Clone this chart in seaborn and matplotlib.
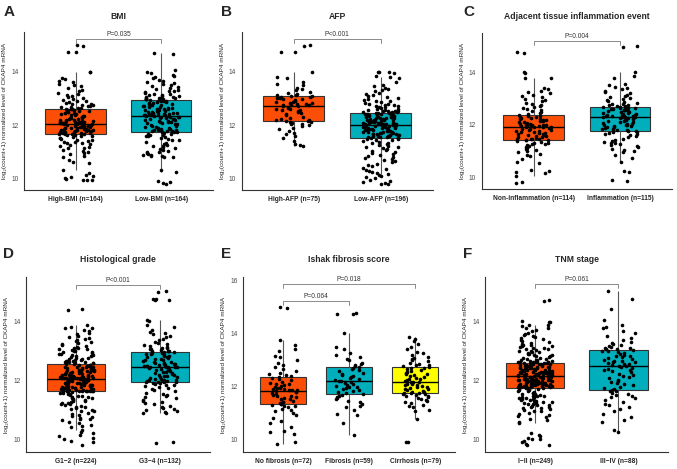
import numpy as np
import pandas as pd
import matplotlib
matplotlib.use("Agg")
import matplotlib.pyplot as plt
import seaborn as sns

sns.set_style("white")
plt.rcParams["font.family"] = ["Liberation Sans", "DejaVu Sans"]

ORANGE = "#FC4E07"
TEAL = "#00AFBB"
YELLOW = "#FFFF00"
YLABEL = "log\u2082(count+1) normalized level of CKAP4 mRNA"

# ---- A: BMI ----
bmi_labels = ["High-BMI (n=164)", "Low-BMI (n=164)"]
bmi_high = [15.0, 14.98, 14.76, 14.74, 14.01, 13.99, 13.78, 13.72, 13.65, 13.6,
            13.55, 13.5, 13.45, 13.38, 13.32, 13.27, 13.22, 13.18, 13.14, 13.1,
            13.06, 13.02, 12.98, 12.95, 12.92, 12.89, 12.86, 12.83, 12.8, 12.78,
            12.76, 12.74, 12.72, 12.7, 12.68, 12.66, 12.64, 12.63, 12.62, 12.61, 12.6,
            12.58, 12.57, 12.56, 12.55, 12.53, 12.52, 12.5, 12.49, 12.47, 12.46,
            12.44, 12.42, 12.41, 12.39, 12.37, 12.35, 12.34, 12.32, 12.3, 12.28,
            12.27, 12.25, 12.23, 12.22, 12.2, 12.19, 12.17, 12.16, 12.15, 12.14,
            12.13, 12.12, 12.11, 12.1, 12.1, 12.09, 12.08, 12.08, 12.07, 12.07, 12.06,
            12.05, 12.04, 12.03, 12.02, 12.01, 12.0, 11.99, 11.98, 11.97, 11.96,
            11.95, 11.94, 11.93, 11.92, 11.91, 11.9, 11.89, 11.88, 11.86, 11.85,
            11.84, 11.83, 11.82, 11.81, 11.8, 11.79, 11.78, 11.77, 11.76, 11.75,
            11.74, 11.73, 11.72, 11.71, 11.7, 11.69, 11.68, 11.67, 11.66, 11.66, 11.65,
            11.64, 11.62, 11.6, 11.58, 11.56, 11.53, 11.5, 11.48, 11.45, 11.42,
            11.4, 11.37, 11.34, 11.31, 11.28, 11.25, 11.22, 11.19, 11.15, 11.12,
            11.08, 11.04, 11.0, 10.95, 10.9, 10.85, 10.78, 10.7, 10.62, 10.58,
            10.3, 10.2, 10.12, 10.08, 10.05, 10.02, 9.98, 9.95, 9.93, 9.93, 11.35]
bmi_low = [14.7, 14.68, 14.05, 14.0, 13.95, 13.88, 13.85, 13.8, 13.75, 13.7,
           13.66, 13.62, 13.58, 13.54, 13.5, 13.46, 13.42, 13.38, 13.35, 13.32,
           13.29, 13.26, 13.23, 13.2, 13.18, 13.16, 13.14, 13.12, 13.1, 13.08,
           13.06, 13.04, 13.03, 13.02, 13.01, 13.0, 12.99, 12.98, 12.97, 12.96, 12.95,
           12.93, 12.92, 12.9, 12.89, 12.87, 12.86, 12.84, 12.82, 12.8, 12.79,
           12.77, 12.75, 12.74, 12.72, 12.7, 12.69, 12.67, 12.65, 12.64, 12.62,
           12.6, 12.59, 12.57, 12.55, 12.54, 12.52, 12.5, 12.49, 12.47, 12.46,
           12.45, 12.44, 12.43, 12.42, 12.41, 12.4, 12.39, 12.38, 12.37, 12.37, 12.36,
           12.35, 12.34, 12.33, 12.32, 12.31, 12.3, 12.29, 12.27, 12.26, 12.24,
           12.23, 12.21, 12.2, 12.18, 12.16, 12.15, 12.13, 12.11, 12.1, 12.08,
           12.06, 12.04, 12.02, 12.0, 11.98, 11.96, 11.94, 11.92, 11.9, 11.88,
           11.86, 11.84, 11.83, 11.82, 11.81, 11.8, 11.79, 11.78, 11.77, 11.76, 11.75,
           11.74, 11.72, 11.7, 11.68, 11.66, 11.64, 11.62, 11.6, 11.57, 11.54,
           11.51, 11.48, 11.45, 11.42, 11.38, 11.34, 11.3, 11.26, 11.22, 11.18,
           11.14, 11.1, 11.06, 11.03, 11.0, 10.97, 10.94, 10.91, 10.88, 10.86,
           10.84, 10.82, 10.8, 10.78, 10.3, 10.25, 9.9, 9.85, 9.82, 9.8, 11.2]

# ---- B: AFP ----
afp_labels = ["High-AFP (n=75)", "Low-AFP (n=196)"]
afp_high = [15.0, 14.98, 14.76, 14.74, 14.0, 13.8, 13.75, 13.6, 13.55, 13.5,
            13.4, 13.35, 13.3, 13.25, 13.2, 13.17, 13.14, 13.12, 13.1,
            13.08, 13.07, 13.05, 13.03, 13.0, 12.98, 12.96, 12.93, 12.9, 12.88,
            12.86, 12.84, 12.82, 12.8, 12.78, 12.77, 12.76, 12.75,
            12.73, 12.7, 12.68, 12.65, 12.62, 12.6, 12.57, 12.55, 12.52, 12.48,
            12.45, 12.4, 12.36, 12.32, 12.28, 12.24, 12.2, 12.18, 12.16,
            12.14, 12.12, 12.1, 12.08, 12.05, 12.02, 12.0, 11.95, 11.9, 11.85,
            11.78, 11.7, 11.65, 11.58, 11.5, 11.4, 11.3, 11.25, 11.22]
afp_low = [14.0, 14.0, 13.98, 13.96, 13.85, 13.8, 13.75, 13.6, 13.5, 13.45,
           13.4, 13.35, 13.3, 13.26, 13.22, 13.18, 13.14, 13.1, 13.06, 13.02,
           12.98, 12.95, 12.92, 12.89, 12.86, 12.83, 12.8, 12.78, 12.76, 12.74,
           12.72, 12.7, 12.68, 12.66, 12.64, 12.62, 12.6, 12.58, 12.56, 12.54,
           12.53, 12.52, 12.51, 12.5, 12.49, 12.48, 12.47, 12.46, 12.45,
           12.44, 12.43, 12.42, 12.41, 12.4, 12.39, 12.38, 12.37, 12.36, 12.35,
           12.34, 12.33, 12.32, 12.31, 12.3, 12.29, 12.28, 12.27, 12.26, 12.25,
           12.24, 12.23, 12.22, 12.21, 12.2, 12.19, 12.18, 12.17, 12.16, 12.15,
           12.14, 12.13, 12.12, 12.11, 12.1, 12.09, 12.08, 12.07, 12.06, 12.05,
           12.05, 12.04, 12.04, 12.03, 12.03, 12.02, 12.02, 12.01, 12.01,
           12.0, 11.99, 11.98, 11.97, 11.96, 11.95, 11.94, 11.93, 11.92, 11.91,
           11.9, 11.89, 11.88, 11.87, 11.86, 11.85, 11.84, 11.83, 11.82, 11.81,
           11.8, 11.79, 11.78, 11.77, 11.76, 11.75, 11.74, 11.73, 11.72, 11.71,
           11.7, 11.69, 11.68, 11.67, 11.66, 11.65, 11.64, 11.63, 11.62, 11.61,
           11.6, 11.59, 11.58, 11.57, 11.56, 11.55, 11.54, 11.53, 11.52,
           11.5, 11.48, 11.46, 11.44, 11.42, 11.4, 11.37, 11.34, 11.31, 11.28,
           11.25, 11.22, 11.19, 11.16, 11.13, 11.1, 11.07, 11.04, 11.0, 10.96,
           10.92, 10.88, 10.84, 10.8, 10.76, 10.72, 10.68, 10.64, 10.6, 10.55,
           10.5, 10.45, 10.4, 10.35, 10.3, 10.26, 10.22, 10.18, 10.15, 10.12,
           10.1, 10.05, 10.0, 9.95, 9.9, 9.85, 9.82, 9.8, 9.8]

# ---- C: Adjacent tissue inflammation event ----
infl_labels = ["Non-inflammation (n=114)", "Inflammation (n=115)"]
infl_non = [14.76, 14.74, 14.0, 13.98, 13.8, 13.78, 13.4, 13.35, 13.3, 13.25,
            13.2, 13.15, 13.1, 13.05, 13.0, 12.95, 12.9, 12.85, 12.8, 12.76,
            12.72, 12.68, 12.64, 12.6, 12.56, 12.52, 12.48, 12.44, 12.4,
            12.37, 12.35, 12.33, 12.31, 12.29, 12.27, 12.25, 12.23, 12.21, 12.19,
            12.17, 12.15, 12.13, 12.11, 12.09, 12.07, 12.05, 12.03, 12.01, 12.0,
            11.99, 11.98, 11.97, 11.96, 11.95, 11.94, 11.93, 11.93,
            11.91, 11.9, 11.88, 11.86, 11.84, 11.82, 11.8, 11.78, 11.76, 11.74,
            11.72, 11.7, 11.68, 11.66, 11.64, 11.62, 11.6, 11.58, 11.56, 11.54,
            11.52, 11.5, 11.48, 11.47, 11.46, 11.45, 11.44, 11.43,
            11.41, 11.38, 11.35, 11.32, 11.29, 11.26, 11.22, 11.18, 11.14, 11.1,
            11.05, 11.0, 10.95, 10.9, 10.85, 10.8, 10.7, 10.6, 10.55, 10.3,
            10.25, 10.2, 10.15, 10.05, 9.82, 9.8, 11.3, 11.2, 11.12]
infl_yes = [15.0, 14.98, 14.0, 13.85, 13.8, 13.55, 13.5, 13.45, 13.4, 13.35,
            13.3, 13.25, 13.2, 13.15, 13.1, 13.06, 13.02, 12.98, 12.94, 12.9,
            12.87, 12.84, 12.81, 12.78, 12.76, 12.74, 12.72, 12.7, 12.69,
            12.67, 12.66, 12.65, 12.64, 12.62, 12.61, 12.6, 12.58, 12.56, 12.55,
            12.53, 12.51, 12.5, 12.48, 12.46, 12.44, 12.42, 12.4, 12.38, 12.37,
            12.36, 12.35, 12.34, 12.33, 12.32, 12.31, 12.3, 12.29,
            12.28, 12.27, 12.25, 12.23, 12.21, 12.19, 12.17, 12.15, 12.13, 12.11,
            12.09, 12.07, 12.05, 12.03, 12.01, 12.0, 11.98, 11.96, 11.94, 11.92,
            11.9, 11.88, 11.86, 11.84, 11.82, 11.8, 11.78, 11.77, 11.76,
            11.74, 11.72, 11.7, 11.67, 11.64, 11.6, 11.56, 11.52, 11.48, 11.44,
            11.4, 11.36, 11.32, 11.28, 11.24, 11.2, 11.15, 11.1, 11.05, 11.0,
            10.95, 10.85, 10.75, 10.6, 10.25, 10.22, 9.9, 9.88, 11.3]

# ---- D: Histological grade ----
grade_labels = ["G1\u22122 (n=224)", "G3\u22124 (n=132)"]
grade_low = [14.4, 14.38, 13.85, 13.8, 13.78, 13.75, 13.7, 13.65, 13.6, 13.55,
             13.5, 13.45, 13.42, 13.38, 13.35, 13.32, 13.28, 13.25, 13.22, 13.19,
             13.16, 13.13, 13.1, 13.08, 13.06, 13.04, 13.02, 13.0, 12.98, 12.96,
             12.94, 12.92, 12.9, 12.88, 12.86, 12.84, 12.82, 12.8, 12.78, 12.76,
             12.74, 12.72, 12.7, 12.68, 12.67, 12.66, 12.65, 12.64, 12.63, 12.62,
             12.61, 12.6, 12.59, 12.58, 12.57, 12.56,
             12.53, 12.52, 12.51, 12.5, 12.49, 12.48, 12.47, 12.46, 12.45, 12.44,
             12.43, 12.42, 12.41, 12.4, 12.39, 12.38, 12.37, 12.36, 12.35, 12.34,
             12.33, 12.32, 12.31, 12.3, 12.29, 12.28, 12.27, 12.26, 12.25, 12.24,
             12.23, 12.22, 12.21, 12.2, 12.19, 12.18, 12.17, 12.16, 12.15, 12.14,
             12.13, 12.12, 12.11, 12.1, 12.1, 12.09, 12.09, 12.08, 12.08, 12.07,
             12.07, 12.07, 12.06, 12.06, 12.06, 12.06,
             12.05, 12.05, 12.04, 12.04, 12.03, 12.03, 12.02, 12.01, 12.0, 11.99,
             11.98, 11.97, 11.96, 11.95, 11.94, 11.93, 11.92, 11.91, 11.9, 11.89,
             11.88, 11.87, 11.86, 11.85, 11.84, 11.83, 11.82, 11.81, 11.8, 11.79,
             11.78, 11.77, 11.76, 11.75, 11.74, 11.73, 11.72, 11.71, 11.7, 11.69,
             11.68, 11.68, 11.67, 11.67, 11.66, 11.66, 11.65, 11.65, 11.64, 11.64,
             11.64, 11.63, 11.63, 11.63, 11.63, 11.63,
             11.62, 11.6, 11.58, 11.56, 11.54, 11.52, 11.5, 11.48, 11.46, 11.44,
             11.42, 11.4, 11.38, 11.36, 11.34, 11.32, 11.3, 11.28, 11.26, 11.24,
             11.22, 11.2, 11.18, 11.15, 11.12, 11.1, 11.08, 11.05, 11.02, 11.0,
             10.97, 10.94, 10.9, 10.86, 10.82, 10.78, 10.75, 10.72, 10.7, 10.68,
             10.65, 10.6, 10.55, 10.5, 10.45, 10.4, 10.3, 10.25, 10.2, 10.15,
             10.1, 10.05, 10.0, 9.95, 9.9, 9.8]
grade_high = [15.0, 14.98, 14.76, 14.74, 14.72, 14.7, 14.05, 14.0, 13.85, 13.8,
              13.7, 13.62, 13.6, 13.55, 13.5, 13.45, 13.4, 13.35, 13.3, 13.26,
              13.22, 13.18, 13.15, 13.12, 13.1, 13.08, 13.06, 13.04, 13.02, 13.0,
              12.99, 12.98, 12.98,
              12.96, 12.95, 12.93, 12.91, 12.89, 12.87, 12.85, 12.83, 12.81, 12.79,
              12.77, 12.75, 12.73, 12.71, 12.69, 12.67, 12.65, 12.63, 12.61, 12.59,
              12.57, 12.55, 12.54, 12.53, 12.52, 12.51, 12.5, 12.49, 12.48, 12.47,
              12.46, 12.46, 12.45,
              12.44, 12.43, 12.41, 12.39, 12.37, 12.35, 12.33, 12.31, 12.29, 12.27,
              12.25, 12.23, 12.21, 12.19, 12.17, 12.15, 12.13, 12.11, 12.09, 12.07,
              12.05, 12.03, 12.02, 12.01, 12.0, 11.99, 11.98, 11.97, 11.96, 11.95,
              11.94, 11.94, 11.93,
              11.92, 11.9, 11.88, 11.85, 11.82, 11.79, 11.76, 11.73, 11.7, 11.66,
              11.62, 11.58, 11.54, 11.5, 11.46, 11.42, 11.38, 11.34, 11.3, 11.26,
              11.22, 11.18, 11.14, 11.1, 11.06, 11.02, 10.98, 10.95, 10.92, 10.9,
              10.88, 9.9, 9.88]

# ---- E: Ishak fibrosis score ----
ishak_labels = ["No fibrosis (n=72)", "Fibrosis (n=59)", "Cirrhosis (n=79)"]
ishak_none = [15.0, 14.98, 13.75, 13.55, 13.4, 13.35, 13.15, 13.1, 13.0, 12.9,
              12.8, 12.72, 12.65, 12.58, 12.52, 12.46, 12.42, 12.38,
              12.34, 12.3, 12.26, 12.22, 12.18, 12.14, 12.1, 12.07, 12.04, 12.01,
              11.98, 11.95, 11.93, 11.91, 11.89, 11.87, 11.85, 11.84,
              11.82, 11.8, 11.77, 11.74, 11.71, 11.68, 11.65, 11.62, 11.59, 11.56,
              11.53, 11.5, 11.46, 11.42, 11.39, 11.36, 11.34, 11.33,
              11.3, 11.27, 11.24, 11.2, 11.15, 11.1, 11.05, 11.0, 10.9, 10.8,
              10.7, 10.6, 10.45, 10.3, 10.25, 10.2, 9.9, 9.8]
ishak_fib = [14.76, 14.75, 14.74, 14.0, 13.5, 13.4, 13.25, 13.2, 13.1, 13.05,
             13.0, 12.9, 12.84, 12.8, 12.76,
             12.72, 12.68, 12.64, 12.6, 12.56, 12.52, 12.48, 12.44, 12.4, 12.36,
             12.32, 12.28, 12.24, 12.2,
             12.19, 12.15, 12.11, 12.08, 12.05, 12.02, 11.99, 11.96, 11.93, 11.9,
             11.86, 11.82, 11.78, 11.74, 11.71,
             11.68, 11.64, 11.6, 11.55, 11.5, 11.45, 11.4, 11.32, 11.25, 11.2,
             11.1, 10.95, 10.9, 10.6, 10.17]
ishak_cirr = [13.85, 13.8, 13.72, 13.6, 13.5, 13.42, 13.3, 13.25, 13.2, 13.12,
              13.08, 13.04, 13.0, 12.95, 12.9, 12.86, 12.82, 12.79, 12.76, 12.74,
              12.71, 12.68, 12.65, 12.62, 12.58, 12.55, 12.52, 12.48, 12.45, 12.42,
              12.38, 12.35, 12.32, 12.29, 12.26, 12.23, 12.2, 12.18, 12.16,
              12.15, 12.13, 12.11, 12.09, 12.07, 12.05, 12.03, 12.01, 11.99, 11.97,
              11.94, 11.91, 11.88, 11.85, 11.82, 11.8, 11.78, 11.76, 11.75, 11.74,
              11.72, 11.7, 11.68, 11.65, 11.62, 11.6, 11.56, 11.52, 11.48, 11.44,
              11.4, 11.35, 11.3, 11.25, 11.2, 11.1, 11.05, 10.75, 9.9, 9.88]

# ---- F: TNM stage ----
tnm_labels = ["I\u2212II (n=249)", "III\u2212IV (n=88)"]
tnm_early = [14.7, 14.68, 14.0, 13.98, 13.95, 13.88, 13.85, 13.82, 13.78, 13.75,
             13.7, 13.65, 13.6, 13.56, 13.52, 13.48, 13.45, 13.42, 13.38, 13.35,
             13.32, 13.29, 13.26, 13.23, 13.2, 13.18, 13.16, 13.14, 13.12, 13.1,
             13.08, 13.06, 13.04, 13.02, 13.0, 12.98, 12.96, 12.94, 12.92, 12.9,
             12.88, 12.86, 12.84, 12.82, 12.8, 12.78, 12.76, 12.74, 12.72, 12.7,
             12.69, 12.68, 12.67, 12.66, 12.65, 12.64, 12.63, 12.62, 12.62, 12.61,
             12.61, 12.6,
             12.59, 12.58, 12.57, 12.56, 12.55, 12.54, 12.53, 12.52, 12.51, 12.5,
             12.49, 12.48, 12.47, 12.46, 12.45, 12.44, 12.43, 12.42, 12.41, 12.4,
             12.39, 12.38, 12.37, 12.36, 12.35, 12.34, 12.33, 12.32, 12.31, 12.3,
             12.29, 12.28, 12.27, 12.26, 12.25, 12.24, 12.23, 12.22, 12.21, 12.2,
             12.19, 12.18, 12.17,
             12.55, 12.5, 12.45, 12.42, 12.4, 12.38, 12.35, 12.32, 12.3, 12.28,
             12.26, 12.24, 12.22, 12.21, 12.2, 12.19, 12.18, 12.17, 12.17,
             12.15, 12.14, 12.13, 12.12, 12.11, 12.1, 12.09, 12.08, 12.07, 12.06,
             12.05, 12.04, 12.03, 12.02, 12.01, 12.0, 11.99, 11.98, 11.97, 11.96,
             11.95, 11.94, 11.93, 11.92, 11.91, 11.9, 11.89, 11.88, 11.87, 11.86,
             11.85, 11.84, 11.83, 11.82, 11.81, 11.8, 11.79, 11.78, 11.77, 11.76,
             11.75, 11.74,
             12.12, 12.08, 12.05, 12.02, 12.0, 11.98, 11.96, 11.94, 11.92, 11.9,
             11.88, 11.86, 11.84, 11.82, 11.8, 11.79, 11.78, 11.77, 11.76, 11.75, 11.73,
             11.72, 11.7, 11.68, 11.66, 11.64, 11.62, 11.6, 11.58, 11.56, 11.54,
             11.52, 11.5, 11.48, 11.46, 11.44, 11.42, 11.4, 11.38, 11.36, 11.34,
             11.32, 11.3, 11.28, 11.26, 11.24, 11.22, 11.2, 11.18, 11.15, 11.12,
             11.1, 11.08, 11.05, 11.02, 11.0, 10.97, 10.94, 10.9, 10.86, 10.82,
             10.78, 10.74, 10.7, 10.65, 10.6, 10.55, 10.2, 10.15, 10.1, 10.05,
             10.02, 10.0, 9.95, 9.9, 9.85, 9.82, 9.8, 11.45, 11.35, 11.25,
             11.15, 11.05]
tnm_late = [15.0, 14.75, 14.4, 14.05, 13.85, 13.8, 13.78, 13.65, 13.6, 13.5,
            13.42, 13.35, 13.3, 13.26, 13.22, 13.18, 13.14, 13.12, 13.1, 13.08,
            13.06, 13.04,
            13.02, 13.0, 12.98, 12.95, 12.92, 12.89, 12.86, 12.83, 12.8, 12.77,
            12.74, 12.71, 12.68, 12.66, 12.64, 12.62, 12.6, 12.57, 12.55, 12.53,
            12.51, 12.49,
            12.47, 12.45, 12.42, 12.39, 12.36, 12.33, 12.3, 12.26, 12.22, 12.18,
            12.14, 12.1, 12.06, 12.02, 11.98, 11.94, 11.9, 11.86, 11.82, 11.78,
            11.74, 11.69,
            11.66, 11.64, 11.62, 11.58, 11.54, 11.5, 11.46, 11.42, 11.38, 11.32,
            11.26, 11.2, 11.15, 11.1, 11.02, 10.95, 10.85, 10.75, 10.65, 10.6,
            10.3, 10.25]

# p-value brackets: (group i, group j, height, text)
bmi_p = [(0, 1, 15.25, "P=0.035")]
afp_p = [(0, 1, 15.25, "P<0.001")]
infl_p = [(0, 1, 15.2, "P=0.004")]
grade_p = [(0, 1, 15.22, "P<0.001")]
ishak_p = [(0, 1, 15.22, "P=0.064"), (0, 2, 15.87, "P=0.018")]
tnm_p = [(0, 1, 15.25, "P=0.061")]


def draw_panel(ax, labels, groups, colors, brackets, ylim, yticks):
    df = pd.DataFrame({
        "group": np.repeat(labels, [len(g) for g in groups]),
        "value": np.concatenate(groups),
    })
    sns.boxplot(data=df, x="group", y="value", hue="group", order=labels,
                hue_order=labels, palette=colors, saturation=1, width=0.7,
                showfliers=False, showcaps=False, linewidth=0.8,
                linecolor="#333333", legend=False,
                medianprops={"color": "black", "linewidth": 1.0},
                whiskerprops={"color": "#555555", "linewidth": 0.8}, ax=ax)
    sns.stripplot(data=df, x="group", y="value", order=labels, color="black",
                  size=2.6, jitter=0.21, linewidth=0, ax=ax)
    for i, j, y, text in brackets:
        ax.plot([i, i, j, j], [y - 0.15, y, y, y - 0.15], color="#777777", lw=0.6)
        ax.text((i + j) / 2, y + 0.03, text, ha="center", va="bottom",
                fontsize=4.8, color="#333333")
    ax.set_xlim(-0.6, len(labels) - 0.4)
    ax.set_ylim(*ylim)
    ax.set_yticks(yticks)
    ax.set_xlabel("")
    ax.set_ylabel(YLABEL, fontsize=4.6, labelpad=3)
    sns.despine(ax=ax)
    for side in ["left", "bottom"]:
        ax.spines[side].set_color("#333333")
        ax.spines[side].set_linewidth(0.8)
    ax.tick_params(axis="both", length=2, width=0.6, color="#333333",
                   labelsize=4.8, pad=2)
    ax.tick_params(axis="y", labelcolor="#4d4d4d")
    for lab in ax.get_xticklabels():
        lab.set_fontweight("bold")


np.random.seed(3)
fig = plt.figure(figsize=(6.77, 4.69), dpi=100)

axA = fig.add_axes([0.0355, 0.595, 0.279, 0.337])
axB = fig.add_axes([0.357, 0.595, 0.2826, 0.337])
axC = fig.add_axes([0.7115, 0.597, 0.2807, 0.333])
axD = fig.add_axes([0.0384, 0.0356, 0.2718, 0.3745])
axE = fig.add_axes([0.3594, 0.0356, 0.3127, 0.3745])
axF = fig.add_axes([0.7164, 0.0356, 0.2708, 0.3745])

draw_panel(axA, bmi_labels, [bmi_high, bmi_low], [ORANGE, TEAL], bmi_p,
           (9.56, 15.5), [10, 12, 14])
draw_panel(axB, afp_labels, [afp_high, afp_low], [ORANGE, TEAL], afp_p,
           (9.56, 15.5), [10, 12, 14])
draw_panel(axC, infl_labels, [infl_non, infl_yes], [ORANGE, TEAL], infl_p,
           (9.56, 15.5), [10, 12, 14])
draw_panel(axD, grade_labels, [grade_low, grade_high], [ORANGE, TEAL], grade_p,
           (9.56, 15.5), [10, 12, 14])
draw_panel(axE, ishak_labels, [ishak_none, ishak_fib, ishak_cirr],
           [ORANGE, TEAL, YELLOW], ishak_p, (9.5, 16.15), [10, 12, 14, 16])
draw_panel(axF, tnm_labels, [tnm_early, tnm_late], [ORANGE, TEAL], tnm_p,
           (9.56, 15.5), [10, 12, 14])

titles = [(axA, "BMI"), (axB, "AFP"), (axC, "Adjacent tissue inflammation event"),
          (axD, "Histological grade"), (axE, "Ishak fibrosis score"), (axF, "TNM stage")]
for ax, t in titles:
    pos = ax.get_position()
    ty = 0.964 if pos.y0 > 0.5 else 0.446
    fig.text((pos.x0 + pos.x1) / 2, ty, t, ha="center", va="center",
             fontsize=6.2, fontweight="bold")

letters = [("A", 0.006, 0.974), ("B", 0.326, 0.974), ("C", 0.684, 0.974),
           ("D", 0.004, 0.458), ("E", 0.326, 0.458), ("F", 0.684, 0.458)]
for letter, lx, ly in letters:
    fig.text(lx, ly, letter, ha="left", va="center", fontsize=11, fontweight="bold")

fig.savefig("out.png", dpi=100)
